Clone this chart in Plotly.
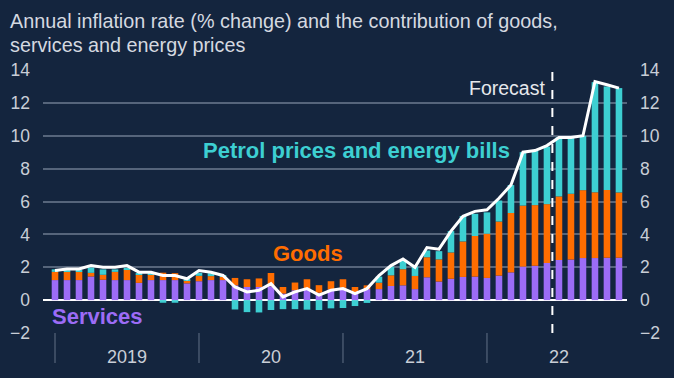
import plotly.graph_objects as go

# Months Jan 2019 .. Dec 2022 (index 0..47)
months = list(range(48))

services = [1.22, 1.22, 1.22, 1.44, 1.24, 1.22, 1.22, 1.05, 1.22, 1.22, 1.22, 1.02,
            1.15, 1.22, 1.22, 0.90, 0.80, 0.80, 0.85, 0.40, 0.60, 0.67, 0.45, 0.65,
            0.75, 0.45, 0.67, 0.67, 0.86, 0.90, 0.67, 1.39, 1.13, 1.30, 1.41, 1.43,
            1.35, 1.49, 1.69, 2.04, 2.09, 2.26, 2.44, 2.47, 2.56, 2.56, 2.58, 2.58]
goods = [0.50, 0.52, 0.52, 0.22, 0.30, 0.50, 0.66, 0.50, 0.35, 0.45, 0.42, 0.20,
         0.33, 0.24, 0.20, 0.45, 0.47, 0.52, 0.80, 0.40, 0.47, 0.60, 0.46, 0.50,
         0.52, 0.35, 0.23, 0.39, 0.65, 0.98, 0.80, 1.22, 1.35, 1.60, 2.16, 2.47,
         2.69, 3.29, 3.61, 3.71, 3.69, 3.58, 3.87, 4.00, 4.13, 4.00, 4.12, 3.97]
energy = [0.15, 0.10, 0.10, 0.32, 0.33, 0.15, 0.08, 0.10, 0.08, -0.16, -0.16, 0.05,
          0.18, 0.18, 0.05, -0.57, -0.73, -0.75, -0.60, -0.55, -0.55, -0.58, -0.60, -0.50,
          -0.48, -0.36, -0.17, 0.37, 0.53, 0.51, 0.57, 0.41, 0.50, 1.30, 1.55, 1.35,
          1.30, 1.28, 1.70, 3.25, 3.32, 3.50, 3.60, 3.40, 3.30, 6.70, 6.30, 6.35]
inflation = [1.8, 1.9, 1.9, 2.1, 2.0, 2.0, 2.1, 1.7, 1.7, 1.5, 1.5, 1.3,
             1.8, 1.7, 1.5, 0.8, 0.5, 0.6, 1.0, 0.2, 0.5, 0.7, 0.3, 0.6,
             0.7, 0.4, 0.7, 1.5, 2.1, 2.5, 2.0, 3.2, 3.1, 4.2, 5.1, 5.4,
             5.5, 6.2, 7.0, 9.0, 9.1, 9.4, 9.9, 9.9, 10.0, 13.3, 13.1, 12.9]

year_ticks = [6, 18, 30, 42]
year_labels = ["2019", "20", "21", "22"]
year_starts = [0, 12, 24, 36]
y_ticks = [-2, 0, 2, 4, 6, 8, 10, 12, 14]
forecast_x = 41.45

BG = "#14253e"
GRID = "#56657b"
TXT = "#c9ced7"
PURPLE = "#9c6cf6"
ORANGE = "#ff6d00"
CYAN = "#3dcfd2"
FONT = "Liberation Sans, Arial, sans-serif"

fig = go.Figure()
bw = 0.55
fig.add_trace(go.Bar(x=months, y=services, marker_color=PURPLE, width=bw,
                     marker_line_width=0, name="Services"))
fig.add_trace(go.Bar(x=months, y=goods, marker_color=ORANGE, width=bw,
                     marker_line_width=0, name="Goods"))
fig.add_trace(go.Bar(x=months, y=energy, marker_color=CYAN, width=bw,
                     marker_line_width=0, name="Energy"))
fig.add_trace(go.Scatter(x=months, y=inflation, mode="lines",
                         line=dict(color="white", width=3), name="CPI"))
# invisible trace for right axis
fig.add_trace(go.Scatter(x=[months[0]], y=[0], yaxis="y2", mode="markers",
                         marker=dict(opacity=0), showlegend=False, hoverinfo="skip"))

shapes = []
for xs in year_starts:
    shapes.append(dict(type="line", xref="x", yref="paper", x0=xs, x1=xs,
                       y0=0, y1=-0.114, line=dict(color=GRID, width=1.2)))
shapes.append(dict(type="line", xref="x", yref="y", x0=forecast_x, x1=forecast_x,
                   y0=-2, y1=14, line=dict(color="white", width=2, dash="dash"),
                   layer="above"))

annotations = [
    dict(text="Annual inflation rate (% change) and the contribution of goods,",
         x=-0.0599, y=1.186, xref="paper", yref="paper", xanchor="left", yanchor="middle",
         showarrow=False, font=dict(color="#d5d9e0", size=19.8, family=FONT)),
    dict(text="services and energy prices",
         x=-0.0599, y=1.095, xref="paper", yref="paper", xanchor="left", yanchor="middle",
         showarrow=False, font=dict(color="#d5d9e0", size=19.8, family=FONT)),
    dict(text="Petrol prices and energy bills", x=25.1, y=9.13, xref="x", yref="y",
         showarrow=False, font=dict(color=CYAN, size=22, family=FONT, weight="bold")),
    dict(text="Goods", x=21.1, y=2.86, xref="x", yref="y", showarrow=False,
         font=dict(color=ORANGE, size=22, family=FONT, weight="bold")),
    dict(text="Services", x=3.5, y=-1.02, xref="x", yref="y", showarrow=False,
         font=dict(color=PURPLE, size=22, family=FONT, weight="bold")),
    dict(text="Forecast", x=41.0, y=12.92, xref="x", yref="y", xanchor="right",
         showarrow=False, font=dict(color="#e6e8ec", size=19.5, family=FONT)),
]

fig.update_layout(
    width=674, height=378,
    paper_bgcolor=BG, plot_bgcolor=BG,
    margin=dict(l=43, r=47, t=70, b=45, autoexpand=False),
    barmode="relative", bargap=0.45,
    showlegend=False,
    font=dict(family=FONT, color=TXT, size=16),
    xaxis=dict(range=[-1, 47.67], tickvals=year_ticks, ticktext=year_labels,
               showgrid=False, zeroline=False, ticks="", showline=False,
               tickfont=dict(size=18, color=TXT), ticklabelstandoff=11),
    yaxis=dict(range=[-2, 14], tickvals=y_ticks, showgrid=True, gridcolor=GRID,
               gridwidth=1.5, zeroline=True, zerolinecolor="white", zerolinewidth=2,
               ticks="", tickfont=dict(size=17.5, color=TXT), ticklabelstandoff=12),
    yaxis2=dict(range=[-2, 14], tickvals=y_ticks, overlaying="y", side="right",
                showgrid=False, zeroline=False, ticks="",
                tickfont=dict(size=17.5, color=TXT), ticklabelstandoff=12),
    shapes=shapes,
    annotations=annotations,
)

fig.write_html(
    "out.html",
    config={"displayModeBar": False},
    post_script="document.body.style.margin='0';document.body.style.background='%s';" % BG,
)
